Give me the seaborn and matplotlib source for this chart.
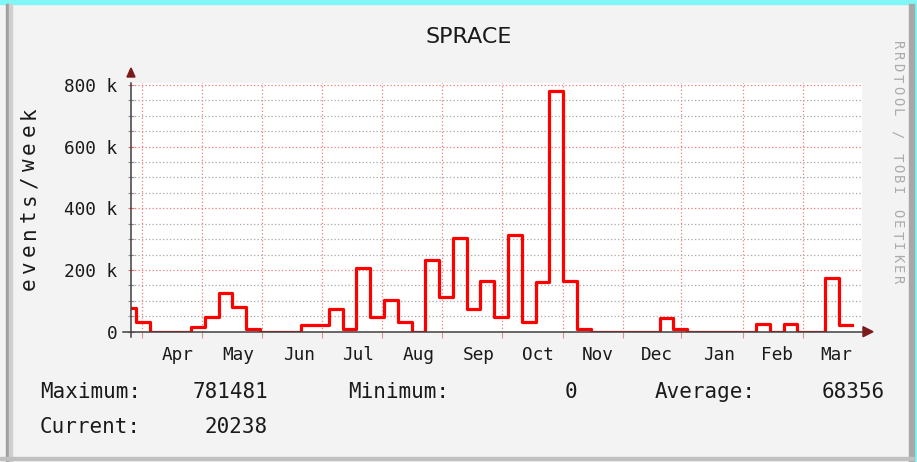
import numpy as np
import pandas as pd
import matplotlib
matplotlib.use("Agg")
import matplotlib.pyplot as plt
import seaborn as sns
from matplotlib.patches import Rectangle, Polygon

# --- data: weekly events (k), week -1 is the partial week at the left edge ---
weeks = list(range(-1, 53))
events_k = [78, 33, 0, 0, 0, 15, 47, 126, 79, 9,
            0, 0, 0, 23, 23, 73, 9, 208, 49, 104,
            33, 0, 231, 112, 303, 72, 166, 47, 312, 33,
            161, 781.481, 166, 9, 0, 0, 0, 0, 0, 45,
            9, 0, 0, 0, 0, 0, 24, 0, 24, 0,
            0, 174, 20.238]
events_k = events_k + [events_k[-1]]  # close last step

month_grid = [0.41, 4.77, 9.12, 13.48, 17.83, 22.23, 26.58, 30.97, 35.32, 39.55, 44.03, 48.43]
month_pos = [3.05, 7.40, 11.83, 16.11, 20.54, 24.89, 29.17, 33.53, 37.81, 42.31, 46.52, 50.80]
month_labels = ["Apr", "May", "Jun", "Jul", "Aug", "Sep", "Oct", "Nov", "Dec", "Jan", "Feb", "Mar"]
y_ticks = [0, 200000, 400000, 600000, 800000]
y_labels = ["0", "200 k", "400 k", "600 k", "800 k"]

stat_max, stat_min, stat_avg, stat_cur = 781481, 0, 68356, 20238

df = pd.DataFrame({"week": weeks, "events": np.array(events_k) * 1000})

W, H = 917, 462
MONO = "DejaVu Sans Mono"
fig = plt.figure(figsize=(W / 100, H / 100), dpi=100)
fig.patch.set_facecolor("#f3f3f3")


def fx(px):
    return px / W


def fy(py):
    return 1 - py / H


# frame (page border around the rrd image)
for (x0, y0, x1, y1, c) in [(0, 0, W, 4, "#80f6f6"), (914, 0, W, H, "#80f6f6"),
                            (6, 4, 9, H, "#a0a0a0"), (9, 4, 12, H, "#cfcfcf"),
                            (909, 4, 914, H, "#a8a8a8"), (0, 457, 914, 460, "#c0c0c0")]:
    fig.patches.append(Rectangle((fx(x0), fy(y1)), (x1 - x0) / W, (y1 - y0) / H,
                                 transform=fig.transFigure, color=c, zorder=0))

ax_l, ax_r, ax_b, ax_t = 131, 862, 331.7, 82.5
ax = fig.add_axes([fx(ax_l), fy(ax_b), (ax_r - ax_l) / W, (ax_b - ax_t) / H])
ax.set_facecolor("white")

sns.lineplot(data=df, x="week", y="events", ax=ax, color="#ff0000", linewidth=2.3,
             drawstyle="steps-post", estimator=None, sort=False, zorder=5)

ax.set_xlim(-0.363, 52.69)
ax.set_ylim(0, 808000)
ax.set_xlabel("")
ax.set_ylabel("")
for s in ax.spines.values():
    s.set_visible(False)

# grid
ax.set_xticks(month_grid)
ax.set_xticklabels([])
ax.set_xticks(month_pos, minor=True)
ax.set_xticklabels(month_labels, minor=True, fontfamily=MONO, fontsize=12.8, color="#1a1a1a")
ax.set_yticks(y_ticks)
ax.set_yticklabels(y_labels, fontfamily=MONO, fontsize=12.8, color="#1a1a1a")
ax.set_yticks(np.arange(50000, 800001, 50000), minor=True)
ax.tick_params(axis="x", which="major", direction="out", length=4, color="#d89090", width=0.8)
ax.tick_params(axis="x", which="minor", length=0, pad=10)
ax.tick_params(axis="y", which="major", direction="inout", length=5, color="#e07070", width=0.8, pad=7.3)
ax.tick_params(axis="y", which="minor", direction="inout", length=5, color="#909090", width=0.8)
ax.grid(True, which="major", axis="both", color="#f07c7c", linestyle=(0, (1, 1.8)), linewidth=0.9)
ax.grid(True, which="minor", axis="y", color="#a8a8a8", linestyle=(0, (1, 1.8)), linewidth=0.9)
ax.set_axisbelow(True)

# axes with arrows
ax.plot([-0.011, 1.0], [0, 0], color="#404040", lw=1.1, transform=ax.transAxes, clip_on=False, zorder=6)
ax.plot([0, 0], [-0.02, 1.0], color="#404040", lw=1.1, transform=ax.transAxes, clip_on=False, zorder=6)
ax.add_patch(Polygon([[fx(127), fy(77)], [fx(135), fy(77)], [fx(131), fy(68)]], closed=True,
                     transform=fig.transFigure, color="#7a1a1a", clip_on=False, zorder=7))
ax.add_patch(Polygon([[fx(863), fy(326.7)], [fx(863), fy(336.7)], [fx(873), fy(331.7)]], closed=True,
                     transform=fig.transFigure, color="#7a1a1a", clip_on=False, zorder=7))

# title
fig.text(fx(469), fy(37), "SPRACE", ha="center", va="center", fontsize=16,
         fontfamily="DejaVu Sans", color="#1a1a1a")


def spaced(x, y_start, step, s, rot, **kw):
    # rrdtool draws these vertical texts with wide letter spacing
    for i, ch in enumerate(s):
        y = y_start - i * step if rot == 90 else y_start + i * step
        fig.text(fx(x), fy(y), ch, rotation=rot, rotation_mode="anchor",
                 ha="center", va="baseline", **kw)


spaced(35, 284, 17.1, "events/week", 90, fontfamily=MONO, fontsize=15, color="#1a1a1a")
spaced(893, 45, 11.2, "RRDTOOL / TOBI OETIKER", -90, fontfamily=MONO, fontsize=10, color="#ababab")

# legend / statistics
lg = dict(fontfamily=MONO, fontsize=15, color="#1a1a1a", va="center")
fig.text(fx(40), fy(392), "Maximum:", ha="left", **lg)
fig.text(fx(268), fy(392), f"{stat_max}", ha="right", **lg)
fig.text(fx(348), fy(392), "Minimum:", ha="left", **lg)
fig.text(fx(577), fy(392), f"{stat_min}", ha="right", **lg)
fig.text(fx(655), fy(392), "Average:", ha="left", **lg)
fig.text(fx(885), fy(392), f"{stat_avg}", ha="right", **lg)
fig.text(fx(40), fy(427), "Current:", ha="left", **lg)
fig.text(fx(268), fy(427), f"{stat_cur}", ha="right", **lg)

fig.savefig("out.png", dpi=100, facecolor=fig.get_facecolor())
